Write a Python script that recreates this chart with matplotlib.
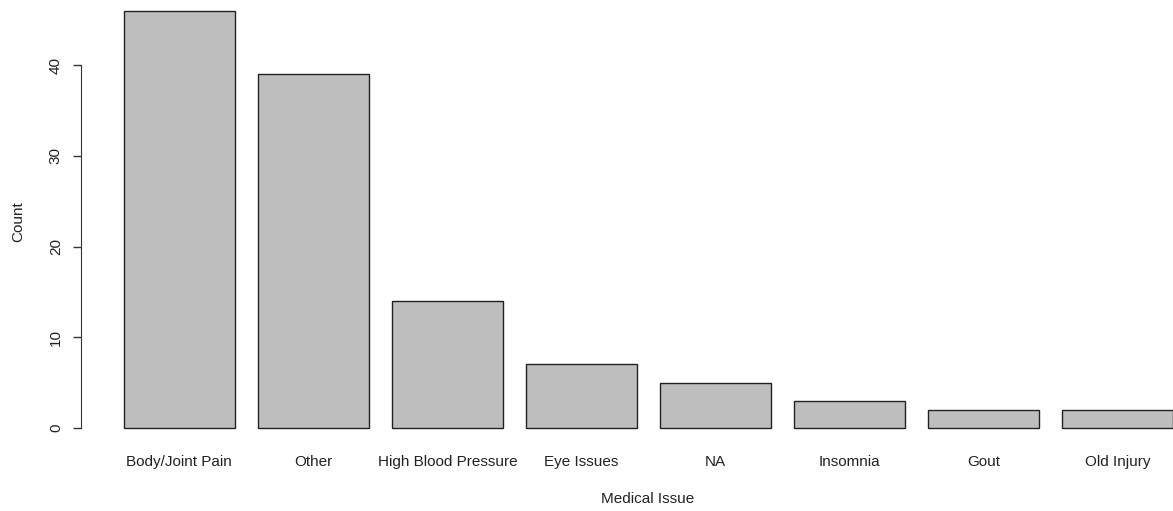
import matplotlib.pyplot as plt

plt.rcParams['font.family'] = ['Liberation Sans', 'DejaVu Sans']

issues = ['Body/Joint Pain', 'Other', 'High Blood Pressure', 'Eye Issues',
          'NA', 'Insomnia', 'Gout', 'Old Injury']
counts = [46, 39, 14, 7, 5, 3, 2, 2]
yticks = [0, 10, 20, 30, 40]

W, H = 1173, 511
fig = plt.figure(figsize=(W / 100, H / 100), dpi=100)

# plot region in pixels (R barplot layout, right/top run past the image edge)
left_px, bottom_px = 81, 444.7
ax = fig.add_axes([left_px / W, (H - bottom_px) / H, (W - left_px) / W, bottom_px / H])

# R style bar positions: width 1, space 0.2
lefts = [0.2 + 1.2 * i for i in range(len(counts))]
centers = [l + 0.5 for l in lefts]
ax.bar(lefts, counts, width=1.0, align='edge', color='#bebebe',
       edgecolor='#222222', linewidth=1.0)

px_per_unit = 134 / 1.2
ax.set_xlim(0.2 - (123.5 - left_px) / px_per_unit, 0.2 + (W - 123.5) / px_per_unit)
ax.set_ylim(-(bottom_px - 428) / 9.075, 428 / 9.075)

for s in ['top', 'right', 'bottom']:
    ax.spines[s].set_visible(False)
ax.spines['left'].set_bounds(0, 40)
ax.spines['left'].set_color('#333333')

ax.set_yticks(yticks)
ax.set_yticklabels([str(t) for t in yticks], rotation=90, va='center', fontsize=11, color='#222222')
ax.tick_params(axis='y', length=6, width=1, color='#333333', pad=7)
ax.set_xticks([])

for c, name in zip(centers, issues):
    ax.text(c, -3.75, name, ha='center', va='center', fontsize=11, color='#222222')

fig.text(648 / W, 1 - 498.5 / H, 'Medical Issue', ha='center', va='center', fontsize=11, color='#222222')
fig.text(18 / W, 1 - 222 / H, 'Count', ha='center', va='center', rotation=90, fontsize=11, color='#222222')

fig.savefig('out.png', dpi=100)
